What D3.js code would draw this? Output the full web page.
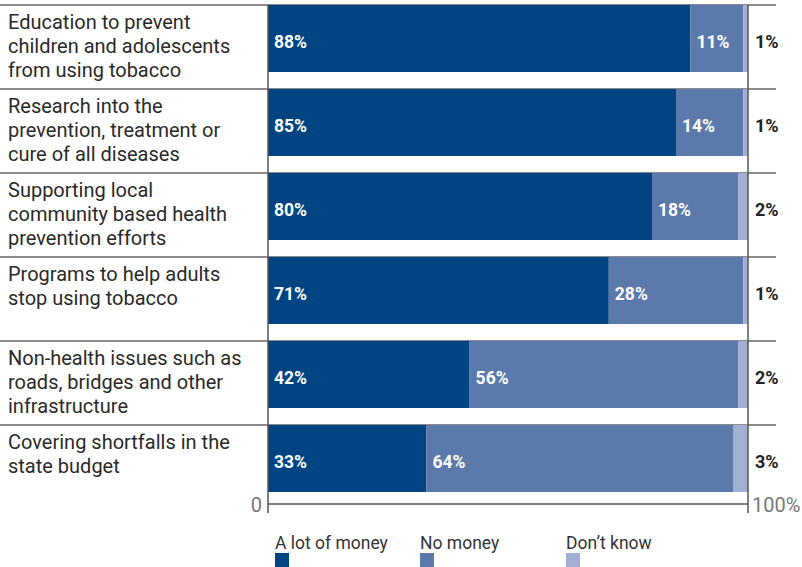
<!DOCTYPE html>
<html><head><meta charset="utf-8">
<script src="https://cdn.jsdelivr.net/npm/d3@7"></script>
<style>body{margin:0;background:#fff}svg{display:block}text{font-family:"Roboto","DejaVu Sans",sans-serif}</style>
</head><body><svg id="c" width="802" height="567"></svg>
<script>
const categories = [
  ["Education to prevent","children and adolescents","from using tobacco"],
  ["Research into the","prevention, treatment or","cure of all diseases"],
  ["Supporting local","community based health","prevention efforts"],
  ["Programs to help adults","stop using tobacco"],
  ["Non-health issues such as","roads, bridges and other","infrastructure"],
  ["Covering shortfalls in the","state budget"]
];
const aLot = [88,85,80,71,42,33];
const noMoney = [11,14,18,28,56,64];
const dontKnow = [1,1,2,1,2,3];
const seriesNames = ["A lot of money","No money","Don\u2019t know"];
const colors = ["#004582","#5b79aa","#a2afd2"];
const axisLabels = ["0","100%"];

const svg = d3.select("#c");
const x = d3.scaleLinear().domain([0,100]).range([268,748]);
const y = d3.scaleBand().domain(d3.range(categories.length)).range([5,509]).paddingInner(0).paddingOuter(0);
const barH = 67;

svg.selectAll("line.sep").data(d3.range(categories.length)).join("line")
  .attr("x1",0).attr("x2",776).attr("y1",d=>y(d)).attr("y2",d=>y(d))
  .attr("stroke","#666").attr("stroke-width",1.5);

const rows = d3.range(categories.length).map(i=>[aLot[i],noMoney[i],dontKnow[i]]);
rows.forEach((r,i)=>{
  let acc=0;
  r.forEach((v,j)=>{
    svg.append("rect").attr("x",x(acc)).attr("width",x(acc+v)-x(acc))
      .attr("y",y(i)).attr("height",barH).attr("fill",colors[j]);
    if(j<2){
      svg.append("text").attr("x",x(acc)+6).attr("y",y(i)+barH/2+9)
        .attr("fill","#fff").attr("font-weight","bold").attr("font-size",17.5).text(v+"%");
    } else {
      svg.append("text").attr("x",755).attr("y",y(i)+barH/2+9)
        .attr("fill","#222").attr("font-weight","bold").attr("font-size",18).text(v+"%");
    }
    acc+=v;
  });
  const t = svg.append("text").attr("fill","#2a2a2a").attr("font-size",20);
  categories[i].forEach((l,k)=>{
    t.append("tspan").attr("x",8).attr("y",y(i)+24+k*24).text(l);
  });
});

svg.append("line").attr("x1",x(0)).attr("x2",x(0)).attr("y1",5).attr("y2",513).attr("stroke","#555").attr("stroke-width",1.5);
svg.append("line").attr("x1",x(100)).attr("x2",x(100)).attr("y1",5).attr("y2",513).attr("stroke","#555").attr("stroke-width",1.5);
svg.append("line").attr("x1",x(0)).attr("x2",x(100)).attr("y1",504).attr("y2",504).attr("stroke","#555").attr("stroke-width",1.5);
svg.append("text").attr("x",x(0)-6).attr("y",512).attr("text-anchor","end").attr("fill","#777").attr("font-size",20).text(axisLabels[0]);
svg.append("text").attr("x",x(100)+4).attr("y",512).attr("fill","#777").attr("font-size",20).text(axisLabels[1]);

const lx = [275,420,566];
seriesNames.forEach((s,i)=>{
  svg.append("text").attr("x",lx[i]).attr("y",549).attr("fill","#333").attr("font-size",17.5).text(s);
  svg.append("rect").attr("x",lx[i]).attr("y",553).attr("width",14).attr("height",14).attr("fill",colors[i]);
});
</script></body></html>
